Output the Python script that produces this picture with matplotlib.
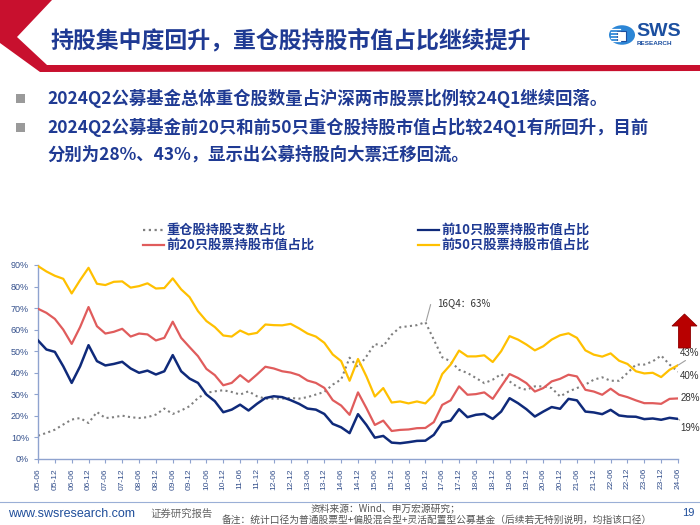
import matplotlib

matplotlib.use("Agg")
import matplotlib.pyplot as plt
from matplotlib.lines import Line2D
from matplotlib.patches import Polygon, Circle, Rectangle
from matplotlib.ticker import FuncFormatter

plt.rcParams["font.family"] = ["Noto Sans CJK SC", "DejaVu Sans"]

# quarterly from 2005Q2 to 2024Q2
QUARTERS = [f"{y % 100:02d}-{m:02d}" for y in range(2005, 2025) for m in (3, 6, 9, 12)][1:78]

TOP50 = [89.5, 87, 85, 83.6, 76.8, 83, 88.7, 81.3, 80.7, 82.2,
         82.4, 79.5, 80.2, 81.5, 79.1, 79.3, 83.8, 78.7, 75.1, 68.6,
         64, 61.2, 57.3, 56.8, 59.6, 57.8, 58.5, 62.4, 62.1, 62,
         62.7, 60.6, 58.2, 56.8, 53.9, 48.5, 45.4, 36.3, 46.4, 38.3,
         29, 32.9, 26.2, 26.7, 25.8, 26.7, 25.8, 29.8, 39.4, 43.8,
         50.3, 47.6, 47.6, 48.1, 45, 50, 57, 55.4, 53.1, 50.4,
         52.3, 55.4, 57.4, 58.3, 56.2, 50.4, 48.4, 47.5, 49, 45.6,
         44.1, 40.7, 39.7, 40, 38, 41.4, 43.5]
TOP20 = [69.7, 67.8, 65, 60, 53.4, 61.2, 70.5, 61.6, 58.2, 59,
         60.4, 56.8, 58.2, 57.8, 55, 56.2, 63.7, 56.2, 51.9, 47.7,
         41.8, 38.9, 34.2, 35.3, 38.9, 35.8, 39.2, 42.8, 42, 40.7,
         40.1, 38.9, 36.4, 35.3, 33, 27.3, 24.8, 20.5, 30.9, 23.6,
         15.8, 17.8, 13, 13.5, 13.7, 14.3, 14.4, 17.1, 25.1, 27.2,
         33.7, 29.8, 30.1, 30.9, 27.9, 33.7, 39.4, 37.6, 35.2, 31.3,
         32.9, 36, 37.2, 39.1, 38.3, 32.1, 31.3, 29.8, 32.6, 29.8,
         28.7, 27.2, 25.9, 25.9, 25.6, 27.9, 28.1]
TOP10 = [55, 50.8, 49.7, 43, 35.3, 43, 52.8, 45.4, 43.4, 44.1,
         45.1, 42, 40, 41, 39.2, 40.7, 48.2, 40.7, 37.3, 35.3,
         29.9, 26.8, 21.7, 22.9, 25.2, 22.5, 25.6, 28.3, 29.1, 28.7,
         27.3, 25.6, 23.4, 22.9, 20.9, 16.3, 14.7, 12, 20.8, 15.8,
         9.9, 10.7, 7.6, 7.3, 7.8, 8.4, 8.5, 11.2, 16.9, 17.8,
         23.1, 19.4, 20.5, 20.9, 18.6, 22, 28.2, 25.9, 23.1, 19.7,
         22, 24.1, 23.3, 27.9, 27.2, 22, 21.6, 20.8, 22.8, 20.2,
         19.7, 19.6, 18.5, 18.8, 18.2, 19.1, 18.6]
COUNT_SHARE = [10.8, 12.1, 13.6, 16, 18.3, 19, 16.7, 21.8, 19, 19.4,
               20.1, 19.4, 19, 19.4, 20.6, 23.4, 20.9, 22.5, 24.5, 28.3,
               30.7, 31.4, 31.9, 31.1, 29.9, 31.4, 29.1, 28, 28, 28,
               28.3, 28, 28.7, 29.9, 31.1, 34.5, 36.9, 47, 42.5, 47.6,
               53.4, 52.3, 57.7, 61.1, 61.6, 62.1, 63.5, 55.4, 47.2, 45.3,
               41.4, 39.9, 37.6, 35.2, 36.8, 39.4, 36, 33.2, 32.1, 33.7,
               33.7, 32.9, 29, 31.3, 32.9, 34.5, 36.8, 37.9, 36.3, 36.3,
               39.9, 43.8, 43.8, 45.3, 48, 43.8, 40.5]

NAVY = "#1F3A93"
C_YEL = "#FFC000"
C_RED = "#E05C5C"
C_BLU = "#0F2A7A"
C_GRY = "#7F7F7F"

W, H = 700, 525


def fx(x):
    return x / W


def fy(y):
    return 1 - y / H


fig = plt.figure(figsize=(7, 5.25), dpi=100)

# header
fig.add_artist(Polygon([(fx(0), fy(0)), (fx(52), fy(0)), (fx(17), fy(37)), (fx(47), fy(65)),
                        (fx(700), fy(65)), (fx(700), fy(71)), (fx(40), fy(72)), (fx(0), fy(43))],
                       closed=True, transform=fig.transFigure, color="#C8102E", lw=0))
fig.text(fx(50), fy(41), "持股集中度回升，重仓股持股市值占比继续提升", fontsize=16.5,
         fontweight="bold", color=NAVY, va="center", ha="left")

# logo
fig.add_artist(Circle((fx(622), fy(35)), 13 / W, transform=fig.transFigure, color="#2C86D6", lw=0))
for k in range(5):
    yy = 29 + k * 3
    fig.add_artist(Line2D([fx(611), fx(620)], [fy(yy), fy(yy)], transform=fig.transFigure,
                          color="white", lw=0.9))
fig.add_artist(Rectangle((fx(617), fy(41)), 9 / W, 10 / H, transform=fig.transFigure,
                         facecolor="white", edgecolor="#1B4FA0", lw=0.8))
fig.text(fx(636), fy(31), "SWS", fontsize=14, fontweight="bold", color="#1B4FA0",
         family="Liberation Sans", va="center", ha="left")
fig.text(fx(637), fy(43.5), "RESEARCH", fontsize=4.6, fontweight="bold", color="#1B4FA0",
         family="Liberation Sans", va="center", ha="left")

# bullets
bullets = [(98, "2024Q2公募基金总体重仓股数量占沪深两市股票比例较24Q1继续回落。", True),
           (127, "2024Q2公募基金前20只和前50只重仓股持股市值占比较24Q1有所回升，目前", True),
           (155, "分别为28%、43%，显示出公募持股向大票迁移回流。", False)]
for y, txt, sq in bullets:
    if sq:
        fig.add_artist(Rectangle((fx(16), fy(y + 4.5)), 9 / W, 9 / H, transform=fig.transFigure,
                                 color="#9A9A9A", lw=0))
    fig.text(fx(47), fy(y), txt, fontsize=12.5, fontweight="bold", color=NAVY, va="center", ha="left")

# chart
ax = fig.add_axes([fx(38), fy(459), 640 / W, 194 / H])
x = list(range(len(QUARTERS)))
ax.plot(x, COUNT_SHARE, color=C_GRY, lw=1.5, linestyle=(0, (1, 1.6)), zorder=2)
ax.plot(x, TOP20, color=C_RED, lw=1.6, zorder=3)
ax.plot(x, TOP50, color=C_YEL, lw=1.6, zorder=3)
ax.plot(x, TOP10, color=C_BLU, lw=1.8, zorder=4)

ax.set_xlim(0, len(QUARTERS) - 1)
ax.set_ylim(0, 90)
ax.set_yticks(range(0, 91, 10))
ax.yaxis.set_major_formatter(FuncFormatter(lambda v, p: f"{v:.0f}%"))
ax.set_xticks(x[::2])
ax.set_xticklabels(QUARTERS[::2], rotation=90)
for s in ("top", "right"):
    ax.spines[s].set_visible(False)
for s in ("left", "bottom"):
    ax.spines[s].set_color("#8FA3CF")
    ax.spines[s].set_linewidth(1.0)
ax.tick_params(axis="both", colors="#8FA3CF", length=3, width=0.8, labelcolor="#34508C")
for lab in ax.get_xticklabels() + ax.get_yticklabels():
    lab.set_fontfamily("Liberation Sans")
for lab in ax.get_xticklabels():
    lab.set_fontsize(6)
for lab in ax.get_yticklabels():
    lab.set_fontsize(6.5)
ax.patch.set_alpha(0)

# annotations
peak = COUNT_SHARE.index(max(COUNT_SHARE))
ax.annotate("16Q4：63%", xy=(peak + 0.1, max(COUNT_SHARE) + 0.5), xytext=(peak + 1.4, 72.5),
            fontsize=7, color="#333333", va="center", ha="left",
            arrowprops=dict(arrowstyle="-", color="#A0A0A0", lw=0.8,
                            connectionstyle="angle,angleA=0,angleB=75,rad=0", shrinkA=3, shrinkB=0))
last = len(QUARTERS) - 1
ends = [(TOP50[-1], 49.3, "43%", True), (COUNT_SHARE[-1], 38.3, "40%", False),
        (TOP20[-1], 28.5, "28%", False), (TOP10[-1], 14.4, "19%", True)]
for yv, ty, lab, lead in ends:
    if lead:
        ax.annotate(lab, xy=(last, yv), xytext=(last + 0.25, ty), fontsize=7, color="#333333",
                    va="center", ha="left", family="Liberation Sans", annotation_clip=False,
                    arrowprops=dict(arrowstyle="-", color="#A0A0A0", lw=0.8, shrinkA=0, shrinkB=0,
                                    relpos=(0.5, 0.5 if ty < yv else 0.0)))
    else:
        ax.text(last + 0.25, ty, lab, fontsize=7, color="#333333", va="center", ha="left",
                family="Liberation Sans", clip_on=False)

# red arrow
fig.add_artist(Polygon([(fx(684.5), fy(314)), (fx(697), fy(326)), (fx(690.5), fy(326)),
                        (fx(690.5), fy(348)), (fx(678.5), fy(348)), (fx(678.5), fy(326)),
                        (fx(672), fy(326))], closed=True, transform=fig.transFigure,
                       facecolor="#B80000", edgecolor="#8E0000", lw=0.6))

# legend
leg = [(143, 230, C_GRY, (0, (1, 1.6)), "重仓股持股支数占比"),
       (143, 245, C_RED, "-", "前20只股票持股市值占比"),
       (418, 230, C_BLU, "-", "前10只股票持股市值占比"),
       (418, 245, C_YEL, "-", "前50只股票持股市值占比")]
for lx, ly, c, ls, txt in leg:
    fig.add_artist(Line2D([fx(lx), fx(lx + 21)], [fy(ly), fy(ly)], transform=fig.transFigure,
                          color=c, lw=1.6, linestyle=ls))
    fig.text(fx(lx + 23), fy(ly), txt, fontsize=9.5, fontweight="bold", color=NAVY,
             va="center", ha="left")

# footer
fig.add_artist(Line2D([0, 1], [fy(502), fy(502)], transform=fig.transFigure, color="#9AAFD6", lw=0.8))
fig.text(fx(8), fy(514), "www.swsresearch.com", fontsize=9, color="#1F4E9A",
         family="Liberation Sans", va="center", ha="left")
fig.text(fx(150), fy(514), "证券研究报告", fontsize=7.5, color="#666666", va="center", ha="left")
fig.text(fx(385), fy(508), "资料来源：Wind、申万宏源研究；", fontsize=7, color="#555555",
         va="center", ha="center")
fig.text(fx(437), fy(519.5), "备注：统计口径为普通股票型+偏股混合型+灵活配置型公募基金（后续若无特别说明，均指该口径）",
         fontsize=7, color="#555555", va="center", ha="center")
fig.text(fx(688), fy(513), "19", fontsize=8, color="#1F4E9A", family="Liberation Sans",
         va="center", ha="center")

fig.savefig("out.png", dpi=100)
